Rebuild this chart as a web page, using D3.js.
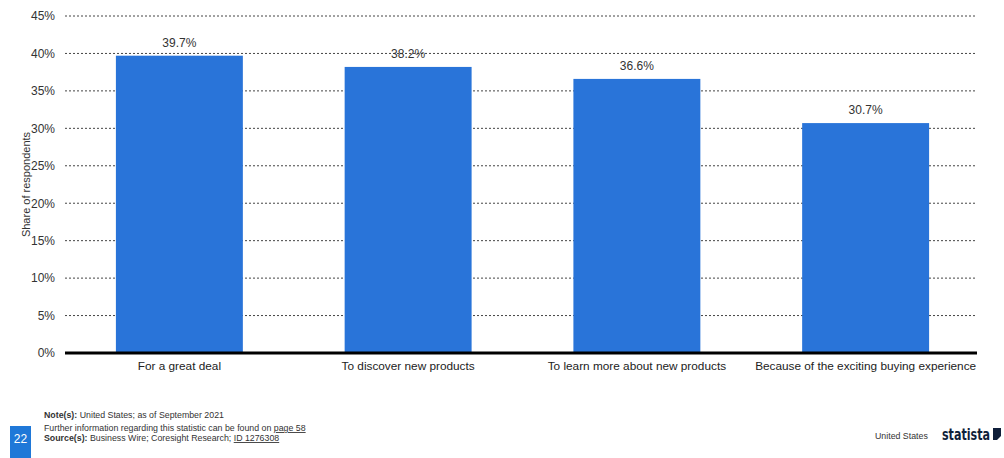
<!DOCTYPE html>
<html>
<head>
<meta charset="utf-8">
<script src="https://cdn.jsdelivr.net/npm/d3@7"></script>
<style>
  html, body { margin: 0; padding: 0; background: #fff; }
  svg { display: block; font-family: "Liberation Sans", Arial, sans-serif; }
</style>
</head>
<body>
<svg id="chart" width="1004" height="458"></svg>
<script>
// Reasons for shopping via livestream, share of respondents
const categories = [
  "For a great deal",
  "To discover new products",
  "To learn more about new products",
  "Because of the exciting buying experience"
];
const shares = [39.7, 38.2, 36.6, 30.7];
const yTicks = [0, 5, 10, 15, 20, 25, 30, 35, 40, 45];

const svg = d3.select("#chart");
const margin = { left: 65 };

const x = d3.scaleBand()
  .domain(categories)
  .range([margin.left, 980])
  .paddingInner(0.445)
  .paddingOuter(0.2225);

const y = d3.scaleLinear()
  .domain([0, 45])
  .range([353, 16]);

// dotted grid lines
svg.append("g")
  .selectAll("line")
  .data(yTicks.filter(d => d > 0))
  .join("line")
  .attr("x1", margin.left)
  .attr("x2", 976)
  .attr("y1", d => y(d))
  .attr("y2", d => y(d))
  .attr("stroke", "#444")
  .attr("stroke-width", 1)
  .attr("stroke-dasharray", "2,2");

// y axis labels
const yAxis = d3.axisLeft(y)
  .tickValues(yTicks)
  .tickFormat(d => d + "%")
  .tickSize(0)
  .tickPadding(10);
const gy = svg.append("g")
  .attr("transform", `translate(${margin.left},0)`)
  .call(yAxis);
gy.select(".domain").remove();
gy.selectAll("text")
  .attr("font-size", 12)
  .attr("fill", "#333")
  .style("font-family", "'Liberation Sans', Arial, sans-serif");

// bars
svg.append("g")
  .selectAll("rect")
  .data(shares)
  .join("rect")
  .attr("x", (d, i) => x(categories[i]))
  .attr("width", x.bandwidth())
  .attr("y", d => y(d))
  .attr("height", d => y(0) - y(d))
  .attr("fill", "#2974d9");

// value labels
svg.append("g")
  .selectAll("text")
  .data(shares)
  .join("text")
  .attr("x", (d, i) => x(categories[i]) + x.bandwidth() / 2)
  .attr("y", d => y(d) - 9)
  .attr("text-anchor", "middle")
  .attr("font-size", 12)
  .attr("fill", "#333")
  .text(d => d.toFixed(1) + "%");

// baseline and category labels
const xAxis = d3.axisBottom(x).tickSize(0).tickPadding(9);
const gx = svg.append("g")
  .attr("transform", `translate(0,${y(0)})`)
  .call(xAxis);
gx.select(".domain")
  .attr("d", `M${margin.left},0H977`)
  .attr("stroke", "#000")
  .attr("stroke-width", 3);
gx.selectAll("text")
  .attr("font-size", 11.8)
  .attr("fill", "#222")
  .style("font-family", "'Liberation Sans', Arial, sans-serif");

// y axis title
svg.append("text")
  .attr("transform", `translate(30,${(y(0) + y(45)) / 2}) rotate(-90)`)
  .attr("text-anchor", "middle")
  .attr("font-size", 11)
  .attr("fill", "#333")
  .text("Share of respondents");

// footer: page number box
svg.append("rect")
  .attr("x", 10).attr("y", 426).attr("width", 21).attr("height", 32)
  .attr("fill", "#1f78d8");
svg.append("text")
  .attr("x", 20.5).attr("y", 443)
  .attr("text-anchor", "middle")
  .attr("font-size", 12)
  .attr("fill", "#fff")
  .text("22");

// footer notes
const notes = svg.append("g").attr("font-size", 8.8).attr("fill", "#333");
const n1 = notes.append("text").attr("x", 44).attr("y", 418);
n1.append("tspan").attr("font-weight", "bold").text("Note(s):");
n1.append("tspan").text(" United States; as of September 2021");
const n2 = notes.append("text").attr("x", 44).attr("y", 431);
n2.append("tspan").text("Further information regarding this statistic can be found on ");
n2.append("tspan").attr("text-decoration", "underline").text("page 58");
const n3 = notes.append("text").attr("x", 44).attr("y", 441);
n3.append("tspan").attr("font-weight", "bold").text("Source(s):");
n3.append("tspan").text(" Business Wire; Coresight Research; ");
n3.append("tspan").attr("text-decoration", "underline").text("ID 1276308");

svg.append("text")
  .attr("x", 875).attr("y", 439)
  .attr("font-size", 8.8)
  .attr("fill", "#333")
  .text("United States");

// statista wordmark
svg.append("text")
  .attr("x", 942).attr("y", 440)
  .attr("font-size", 16)
  .attr("font-weight", "bold")
  .attr("fill", "#0f1f3a")
  .attr("textLength", 48)
  .attr("lengthAdjust", "spacingAndGlyphs")
  .style("font-family", "'DejaVu Sans Condensed', 'Liberation Sans Narrow', sans-serif")
  .text("statista");
svg.append("path")
  .attr("d", "M993,428 h8 v8 l-4,4 h-4 z")
  .attr("fill", "#0f1f3a");
</script>
</body>
</html>
